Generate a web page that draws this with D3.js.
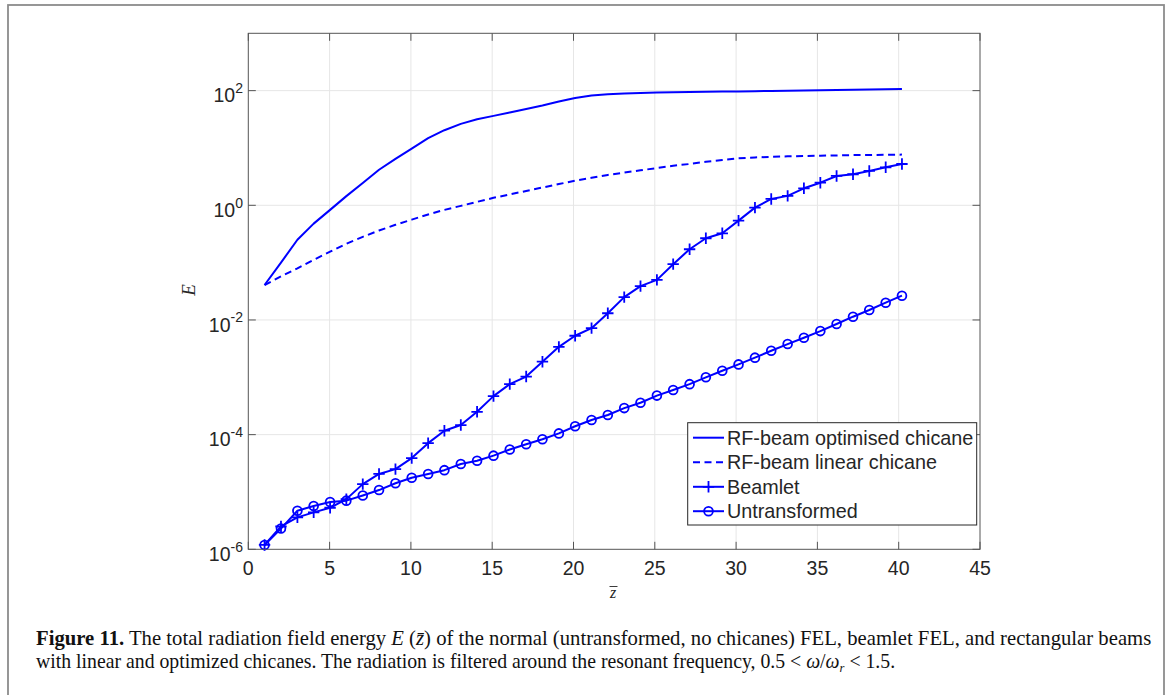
<!DOCTYPE html>
<html>
<head>
<meta charset="utf-8">
<script src="https://cdn.jsdelivr.net/npm/d3@7"></script>
<style>
  html, body { margin: 0; padding: 0; background: #fff; }
  svg { display: block; }
</style>
</head>
<body>
<svg id="fig" width="1170" height="695"></svg>
<script>
// Normalised position along the undulator (one sample per gain length)
const zbar = [1.0, 2.01, 3.02, 4.02, 5.03, 6.03, 7.04, 8.04, 9.05, 10.05,
  11.06, 12.06, 13.07, 14.07, 15.08, 16.08, 17.09, 18.09, 19.1, 20.1,
  21.11, 22.11, 23.12, 24.12, 25.13, 26.13, 27.14, 28.14, 29.15, 30.15,
  31.16, 32.16, 33.17, 34.17, 35.18, 36.18, 37.19, 38.19, 39.2, 40.2];

// Total radiation field energy E for each case
const rfOptimised = [0.0407, 0.1, 0.251, 0.479, 0.832, 1.445, 2.455, 4.17, 6.46, 9.77,
  14.8, 20.4, 26.3, 31.6, 36.3, 41.7, 47.9, 55.0, 64.6, 74.1,
  82.2, 86.1, 89.1, 91.2, 92.7, 93.5, 94.4, 95.3, 96.2, 97.0,
  97.9, 98.9, 99.8, 100.7, 101.6, 102.6, 103.5, 104.5, 105.4, 106.7];

const rfLinear = [0.0407, 0.0575, 0.0794, 0.112, 0.155, 0.214, 0.282, 0.363, 0.457, 0.562,
  0.692, 0.832, 0.977, 1.148, 1.349, 1.549, 1.778, 2.042, 2.344, 2.692,
  3.02, 3.39, 3.72, 4.07, 4.47, 4.90, 5.25, 5.75, 6.17, 6.61,
  6.84, 7.00, 7.16, 7.24, 7.33, 7.41, 7.50, 7.55, 7.60, 7.66];

const beamlet = [1.19e-6, 2.5e-6, 3.6e-6, 4.4e-6, 5.3e-6, 7.5e-6, 1.37e-5, 2.06e-5, 2.5e-5, 3.9e-5,
  7.1e-5, 1.17e-4, 1.47e-4, 2.5e-4, 4.7e-4, 7.6e-4, 1.03e-3, 1.87e-3, 3.4e-3, 5.3e-3,
  7.2e-3, 1.31e-2, 2.5e-2, 3.9e-2, 5.0e-2, 9.4e-2, 0.171, 0.266, 0.325, 0.54,
  0.91, 1.29, 1.46, 1.98, 2.48, 3.25, 3.48, 3.97, 4.6, 5.25];

const untransformed = [1.19e-6, 2.3e-6, 4.7e-6, 5.7e-6, 6.7e-6, 7.05e-6, 8.7e-6, 1.08e-5, 1.42e-5, 1.77e-5,
  2.06e-5, 2.4e-5, 3.08e-5, 3.5e-5, 4.3e-5, 5.5e-5, 6.8e-5, 8.3e-5, 1.05e-4, 1.4e-4,
  1.8e-4, 2.2e-4, 2.9e-4, 3.6e-4, 4.8e-4, 6.0e-4, 7.6e-4, 1.0e-3, 1.3e-3, 1.68e-3,
  2.2e-3, 2.9e-3, 3.8e-3, 4.9e-3, 6.4e-3, 8.5e-3, 1.14e-2, 1.49e-2, 2.0e-2, 2.65e-2];

const seriesNames = ["RF-beam optimised chicane", "RF-beam linear chicane", "Beamlet", "Untransformed"];

// Tick values
const xTicks = [0, 5, 10, 15, 20, 25, 30, 35, 40, 45];
const yTickExponents = [-6, -4, -2, 0, 2];

const BLUE = "#0000ff";
const AXIS = "#262626";
const SANS = "'Liberation Sans', Arial, Helvetica, sans-serif";
const SERIF = "'Liberation Serif', 'Times New Roman', serif";

const svg = d3.select("#fig");

// Figure frame
svg.append("rect")
  .attr("x", 8).attr("y", 5).attr("width", 1156).attr("height", 700)
  .attr("fill", "none").attr("stroke", "#8c8c8c").attr("stroke-width", 1.8);

const plot = { left: 248.3, right: 980, top: 33.3, bottom: 549.3 };

const x = d3.scaleLinear().domain([0, 45]).range([plot.left, plot.right]);
const y = d3.scaleLog().domain([1e-6, 1e3]).range([plot.bottom, plot.top]);

// Grid
const grid = svg.append("g").attr("stroke", "#e6e6e6").attr("stroke-width", 1);
xTicks.slice(1, -1).forEach(t => {
  grid.append("line").attr("x1", x(t)).attr("x2", x(t))
    .attr("y1", plot.top).attr("y2", plot.bottom);
});
yTickExponents.slice(1).forEach(e => {
  grid.append("line").attr("x1", plot.left).attr("x2", plot.right)
    .attr("y1", y(Math.pow(10, e))).attr("y2", y(Math.pow(10, e)));
});

// Curves
const line = d3.line().x((d, i) => x(zbar[i])).y(d => y(d));
const curves = svg.append("g").attr("fill", "none").attr("stroke", BLUE)
  .attr("stroke-width", 2).attr("stroke-linejoin", "round");
curves.append("path").attr("d", line(rfOptimised));
curves.append("path").attr("d", line(rfLinear)).attr("stroke-dasharray", "7,4.5");
curves.append("path").attr("d", line(beamlet));
curves.append("path").attr("d", line(untransformed));

// Markers
const plusPath = (cx, cy, r) => `M${cx - r},${cy}H${cx + r}M${cx},${cy - r}V${cy + r}`;
const marks = svg.append("g").attr("fill", "none").attr("stroke", BLUE).attr("stroke-width", 1.8);
marks.selectAll("path.plus").data(beamlet).join("path").attr("class", "plus")
  .attr("d", (d, i) => plusPath(x(zbar[i]), y(d), 5.7));
marks.selectAll("circle").data(untransformed).join("circle")
  .attr("cx", (d, i) => x(zbar[i])).attr("cy", d => y(d)).attr("r", 4.4);

// Axes box with inward ticks on all four sides
const ax = svg.append("g").attr("stroke", "#555").attr("stroke-width", 1).attr("fill", "none");
ax.append("rect").attr("x", plot.left).attr("y", plot.top)
  .attr("width", plot.right - plot.left).attr("height", plot.bottom - plot.top);
const TL = 7.5;
xTicks.forEach(t => {
  ax.append("line").attr("x1", x(t)).attr("x2", x(t)).attr("y1", plot.bottom).attr("y2", plot.bottom - TL);
  ax.append("line").attr("x1", x(t)).attr("x2", x(t)).attr("y1", plot.top).attr("y2", plot.top + TL);
});
yTickExponents.forEach(e => {
  const yy = y(Math.pow(10, e));
  ax.append("line").attr("x1", plot.left).attr("x2", plot.left + TL).attr("y1", yy).attr("y2", yy);
  ax.append("line").attr("x1", plot.right).attr("x2", plot.right - TL).attr("y1", yy).attr("y2", yy);
});

// Tick labels
const labels = svg.append("g").attr("fill", AXIS).style("font-family", SANS);
xTicks.forEach(t => {
  labels.append("text").attr("x", x(t)).attr("y", plot.bottom + 25.7)
    .attr("text-anchor", "middle").style("font-size", "19.5px").text(t);
});
yTickExponents.forEach(e => {
  const yy = y(Math.pow(10, e));
  const tx = labels.append("text").attr("x", 243).attr("y", yy + 11.8)
    .attr("text-anchor", "end").style("font-size", "19.5px");
  tx.append("tspan").text("10");
  tx.append("tspan").attr("dy", -9.5).style("font-size", "14px").text(String(e));
});

// Axis titles
svg.append("text")
  .attr("transform", "translate(195,290) rotate(-90)")
  .attr("text-anchor", "middle")
  .style("font-family", SERIF).style("font-style", "italic").style("font-size", "19px")
  .attr("fill", AXIS).text("E");
svg.append("text")
  .attr("x", 613).attr("y", 597.5).attr("text-anchor", "middle")
  .style("font-family", SERIF).style("font-style", "italic").style("font-size", "16px")
  .attr("fill", AXIS).text("z");
svg.append("line").attr("x1", 609.5).attr("x2", 617.5).attr("y1", 586.5).attr("y2", 586.5)
  .attr("stroke", AXIS).attr("stroke-width", 0.9);

// Legend
const lg = svg.append("g");
lg.append("rect").attr("x", 687.7).attr("y", 422.7).attr("width", 289).attr("height", 102.3)
  .attr("fill", "#fff").attr("stroke", AXIS).attr("stroke-width", 1);
const rowY = [437.7, 462.3, 486.8, 511.2];
seriesNames.forEach((name, i) => {
  const ry = rowY[i];
  const l = lg.append("line").attr("x1", 693).attr("x2", 724).attr("y1", ry).attr("y2", ry)
    .attr("stroke", BLUE).attr("stroke-width", 2);
  if (i === 1) l.attr("stroke-dasharray", "7,4.5");
  if (i === 2) lg.append("path").attr("d", plusPath(708.5, ry, 5.7))
    .attr("stroke", BLUE).attr("stroke-width", 1.8).attr("fill", "none");
  if (i === 3) lg.append("circle").attr("cx", 708.5).attr("cy", ry).attr("r", 4.4)
    .attr("stroke", BLUE).attr("stroke-width", 1.8).attr("fill", "none");
  lg.append("text").attr("x", 727).attr("y", ry + 7).attr("fill", AXIS)
    .style("font-family", SANS).style("font-size", "19.8px").text(name);
});

// Caption
const cap = svg.append("g").style("font-family", SERIF).style("font-size", "20.5px").attr("fill", "#111");
function captionLine(yb, parts, targetWidth) {
  const t = cap.append("text").attr("x", 36).attr("y", yb);
  parts.forEach(p => {
    const s = t.append("tspan").text(p.t);
    if (p.b) s.style("font-weight", "bold");
    if (p.i) s.style("font-style", "italic");
    if (p.sub) s.attr("dy", 4).style("font-size", "13px");
    if (p.up) s.attr("dy", -4);
  });
  const w = t.node().getComputedTextLength();
  const k = targetWidth / w;
  t.attr("transform", `translate(${36 * (1 - k)},0) scale(${k},1)`);
  return t;
}
captionLine(645, [
  { t: "Figure 11.", b: true },
  { t: " The total radiation field energy " },
  { t: "E", i: true },
  { t: " (" },
  { t: "z\u0304", i: true },
  { t: ") of the normal (untransformed, no chicanes) FEL, beamlet FEL, and rectangular beams" }
], 1116);
captionLine(668, [
  { t: "with linear and optimized chicanes. The radiation is filtered around the resonant frequency, 0.5 < " },
  { t: "\u03c9", i: true },
  { t: "/" },
  { t: "\u03c9", i: true },
  { t: "r", i: true, sub: true },
  { t: " < 1.5.", up: true }
], 860);
</script>
</body>
</html>
